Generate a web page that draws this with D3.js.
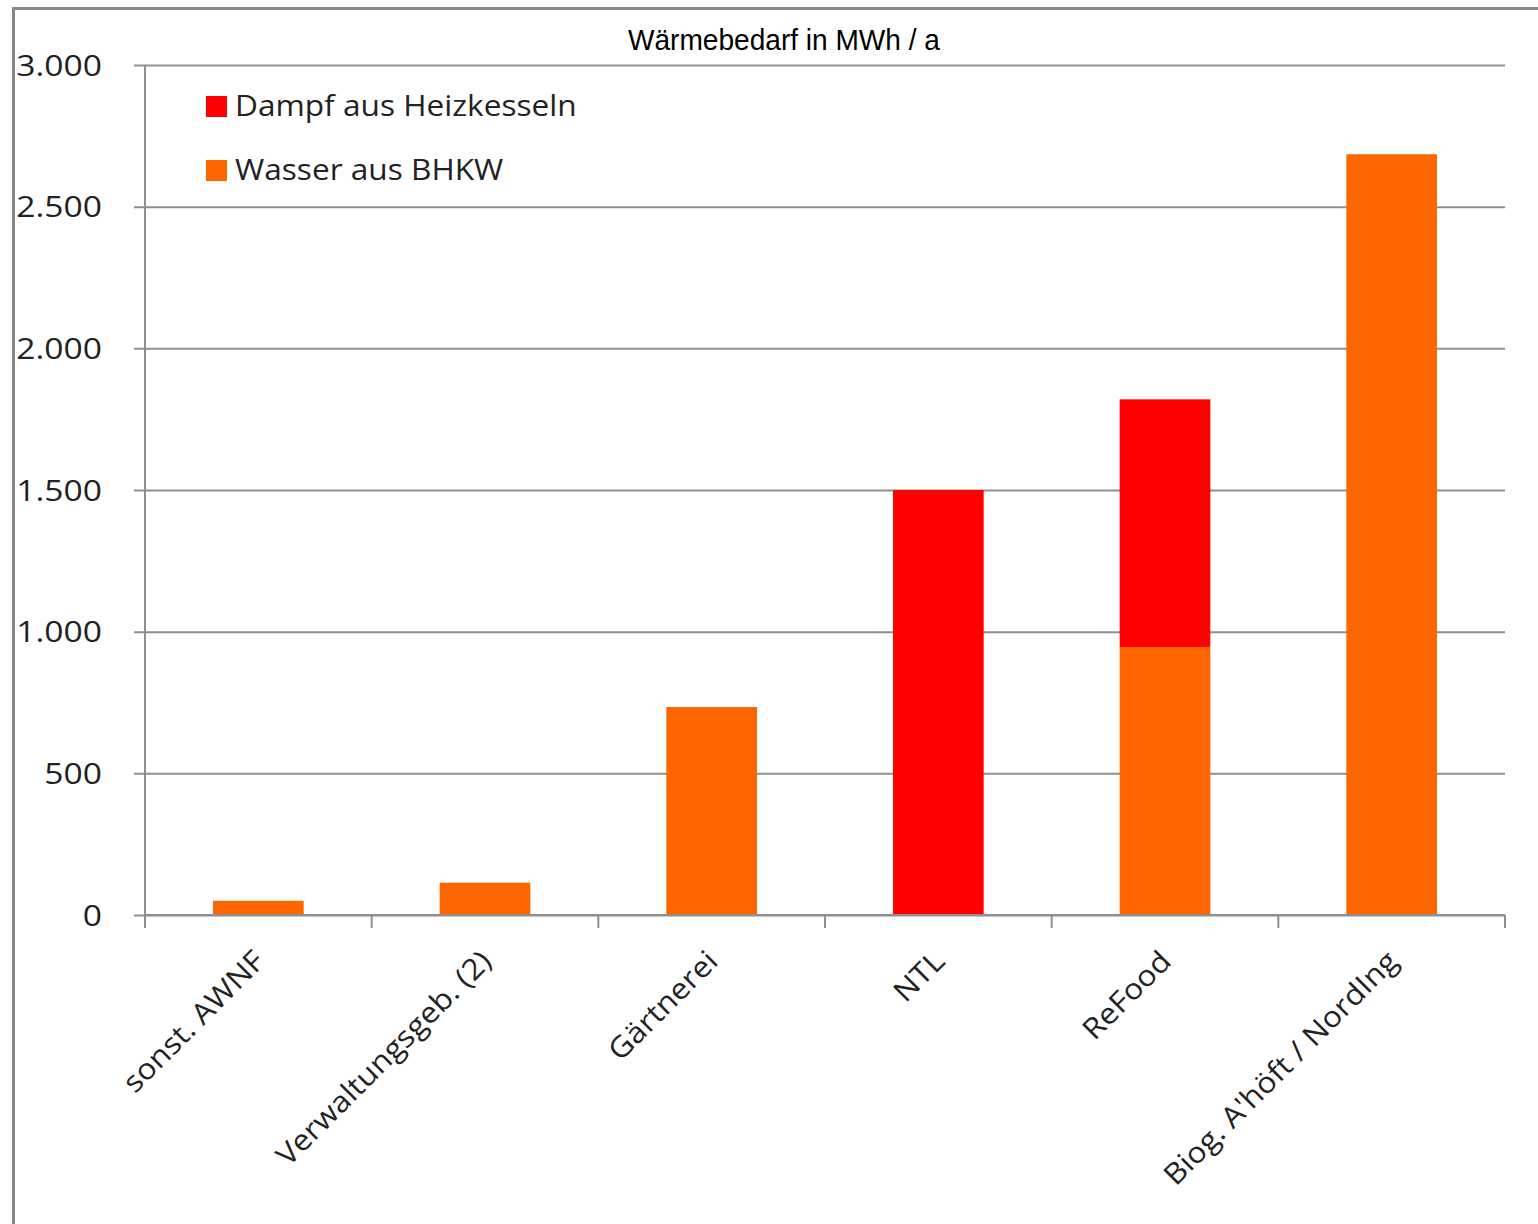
<!DOCTYPE html>
<html>
<head>
<meta charset="utf-8">
<script src="https://cdn.jsdelivr.net/npm/d3@7"></script>
<style>
  html, body { margin: 0; padding: 0; background: #fff; }
  svg { display: block; }
</style>
</head>
<body>
<svg id="chart" width="1538" height="1224"></svg>
<script>
// Heat demand per consumer, MWh per year
const categories = ["sonst. AWNF", "Verwaltungsgeb. (2)", "Gärtnerei", "NTL", "ReFood", "Biog. A'höft / NordIng"];
const wasserBHKW = [50, 114, 734, 0, 946, 2685];        // hot water from CHP
const dampfHeizkessel = [0, 0, 0, 1500, 874, 0];         // steam from boilers
const seriesNames = ["Dampf aus Heizkesseln", "Wasser aus BHKW"];
const seriesColors = ["#FF0000", "#FF6600"];
const yTicks = [0, 500, 1000, 1500, 2000, 2500, 3000];
const title = "Wärmebedarf in MWh / a";

const svg = d3.select("#chart");
const margin = { left: 145, right: 33, top: 65, bottom: 309 };
const W = 1538, H = 1224;
const plotW = W - margin.left - margin.right;
const plotH = H - margin.top - margin.bottom;

const gridColor = "#8f8f8f";
const labelFont = "'Open Sans', 'Noto Sans', sans-serif";

// widen a text element horizontally by a factor of its natural length
function widen(sel, factor) {
  sel.each(function () {
    const len = this.getComputedTextLength();
    d3.select(this).attr("textLength", len * factor).attr("lengthAdjust", "spacingAndGlyphs");
  });
}

// outer frame
svg.append("rect")
  .attr("x", 13.5).attr("y", 8.5)
  .attr("width", W).attr("height", H)
  .attr("fill", "none").attr("stroke", "#888").attr("stroke-width", 3);

const g = svg.append("g").attr("transform", `translate(${margin.left},${margin.top})`);

const x = d3.scaleBand().domain(categories).range([0, plotW]).paddingInner(0.6).paddingOuter(0.3);
const y = d3.scaleLinear().domain([0, 3000]).range([plotH, 0]);

// horizontal gridlines with left tick marks
const yAxis = d3.axisLeft(y).tickValues(yTicks).tickSize(-plotW).tickPadding(0).tickFormat("");
const yg = g.append("g").call(yAxis);
yg.select(".domain").remove();
yg.selectAll(".tick line")
  .attr("x1", -11)
  .attr("stroke", gridColor).attr("stroke-width", 2);

// y tick labels (German thousands separator)
const fmt = d3.formatLocale({ decimal: ",", thousands: ".", grouping: [3], currency: ["", "€"] }).format(",d");
g.append("g").selectAll("text")
  .data(yTicks).join("text")
  .attr("x", -43)
  .attr("y", d => y(d))
  .attr("dy", "0.36em")
  .attr("text-anchor", "end")
  .attr("font-family", labelFont)
  .attr("font-size", 30)
  .attr("fill", "#222")
  .text(d => fmt(d))
  .call(widen, 1.12);

// stacked bars
const rows = categories.map((c, i) => ({ cat: c, wasser: wasserBHKW[i], dampf: dampfHeizkessel[i] }));
const stack = d3.stack().keys(["wasser", "dampf"])(rows);
const keyColor = { wasser: seriesColors[1], dampf: seriesColors[0] };

g.append("g").selectAll("g")
  .data(stack).join("g")
  .attr("fill", s => keyColor[s.key])
  .selectAll("rect")
  .data(s => s.filter(d => d[1] - d[0] > 0))
  .join("rect")
  .attr("x", d => x(d.data.cat))
  .attr("width", x.bandwidth())
  .attr("y", d => y(d[1]))
  .attr("height", d => y(d[0]) - y(d[1]));

// vertical axis line
g.append("line")
  .attr("x1", 0).attr("x2", 0)
  .attr("y1", 0).attr("y2", plotH + 13)
  .attr("stroke", gridColor).attr("stroke-width", 2);

// x axis line with ticks at category boundaries
g.append("line")
  .attr("x1", 0).attr("x2", plotW)
  .attr("y1", plotH).attr("y2", plotH)
  .attr("stroke", gridColor).attr("stroke-width", 2);
const boundaries = d3.range(categories.length + 1).map(i => i * plotW / categories.length);
g.append("g").selectAll("line")
  .data(boundaries).join("line")
  .attr("x1", d => d).attr("x2", d => d)
  .attr("y1", plotH).attr("y2", plotH + 13)
  .attr("stroke", gridColor).attr("stroke-width", 2);

// rotated category labels
g.append("g").selectAll("text")
  .data(categories).join("text")
  .attr("text-anchor", "end")
  .attr("font-family", labelFont)
  .attr("font-size", 29)
  .attr("fill", "#222")
  .attr("transform", d => `translate(${x(d) + x.bandwidth() / 2 + 8},${plotH + 48}) rotate(-45)`)
  .text(d => d)
  .call(widen, 1.09);

// title
svg.append("text")
  .attr("x", 784).attr("y", 50)
  .attr("text-anchor", "middle")
  .attr("font-family", "'Liberation Sans', Arial, sans-serif")
  .attr("font-size", 29)
  .attr("textLength", 312)
  .attr("lengthAdjust", "spacingAndGlyphs")
  .attr("fill", "#000")
  .text(title);

// legend
const legend = svg.append("g").attr("transform", "translate(206,96)");
seriesNames.forEach((name, i) => {
  const row = legend.append("g").attr("transform", `translate(0,${i * 64})`);
  row.append("rect").attr("width", 21).attr("height", 21).attr("fill", seriesColors[i]);
  row.append("text")
    .attr("x", 29).attr("y", 20)
    .attr("font-family", labelFont)
    .attr("font-size", 29)
    .attr("fill", "#222")
    .text(name)
    .call(widen, 1.09);
});
</script>
</body>
</html>
